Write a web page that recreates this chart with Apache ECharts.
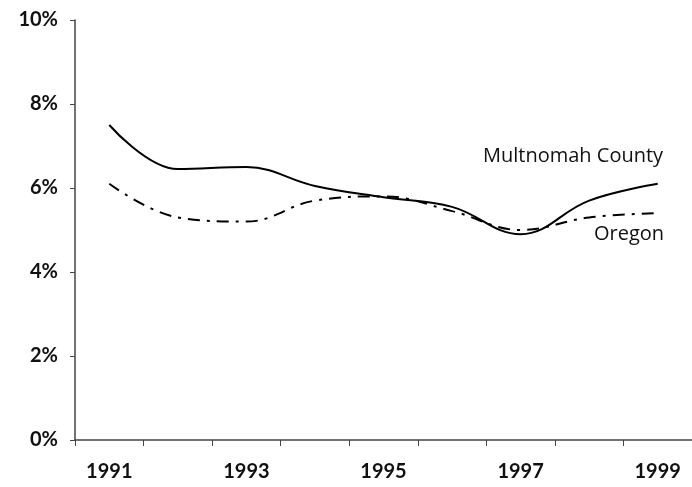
<!DOCTYPE html>
<html>
<head>
<meta charset="utf-8">
<script src="https://cdn.jsdelivr.net/npm/echarts@6/dist/echarts.min.js"></script>
<style>
  html, body { margin: 0; padding: 0; background: #fff; }
  #chart { width: 692px; height: 487px; }
</style>
</head>
<body>
<div id="chart"></div>
<script>
const years = ['1991', '1992', '1993', '1994', '1995', '1996', '1997', '1998', '1999']
const multnomah = [7.5, 6.45, 6.5, 6.05, 5.78, 5.55, 4.9, 5.7, 6.1]
const oregon = [6.1, 5.3, 5.2, 5.7, 5.8, 5.45, 5.0, 5.3, 5.4]

const chart = echarts.init(document.getElementById('chart'))
const option = {
  animation: false,
  grid: { left: 75, right: -8, top: 20, bottom: 47 },
  xAxis: {
    type: 'category',
    data: years,
    boundaryGap: true,
    axisLine: { lineStyle: { color: '#444', width: 1.5 } },
    axisTick: { show: true, interval: 0, length: 6, inside: false, lineStyle: { color: '#444' } },
    axisLabel: {
      interval: 1,
      margin: 22,
      color: '#111',
      fontFamily: 'Lato',
      fontWeight: 'bold',
      fontSize: 20
    }
  },
  yAxis: {
    type: 'value',
    min: 0,
    max: 10,
    interval: 2,
    splitLine: { show: false },
    axisLine: { show: true, lineStyle: { color: '#444', width: 1.5 } },
    axisTick: { show: true, length: 5, lineStyle: { color: '#444' } },
    axisLabel: {
      formatter: '{value}%',
      margin: 17,
      color: '#111',
      fontFamily: 'Lato',
      fontWeight: 'bold',
      fontSize: 20
    }
  },
  series: [
    {
      name: 'Multnomah County',
      type: 'line',
      data: multnomah,
      smooth: 0.4,
      symbol: 'none',
      lineStyle: { color: '#000', width: 2 }
    },
    {
      name: 'Oregon',
      type: 'line',
      data: oregon,
      smooth: 0.4,
      symbol: 'none',
      lineStyle: { color: '#000', width: 2, type: [12, 7, 3, 7] }
    }
  ],
  graphic: [
    {
      type: 'text', left: 483, top: 146,
      style: { text: 'Multnomah County', fill: '#111', font: '20px "Open Sans"' }
    },
    {
      type: 'text', left: 594, top: 224,
      style: { text: 'Oregon', fill: '#111', font: '20px "Open Sans"' }
    }
  ]
}
chart.setOption(option)
window.addEventListener('resize', function () {
  chart.resize()
})
</script>
</body>
</html>
